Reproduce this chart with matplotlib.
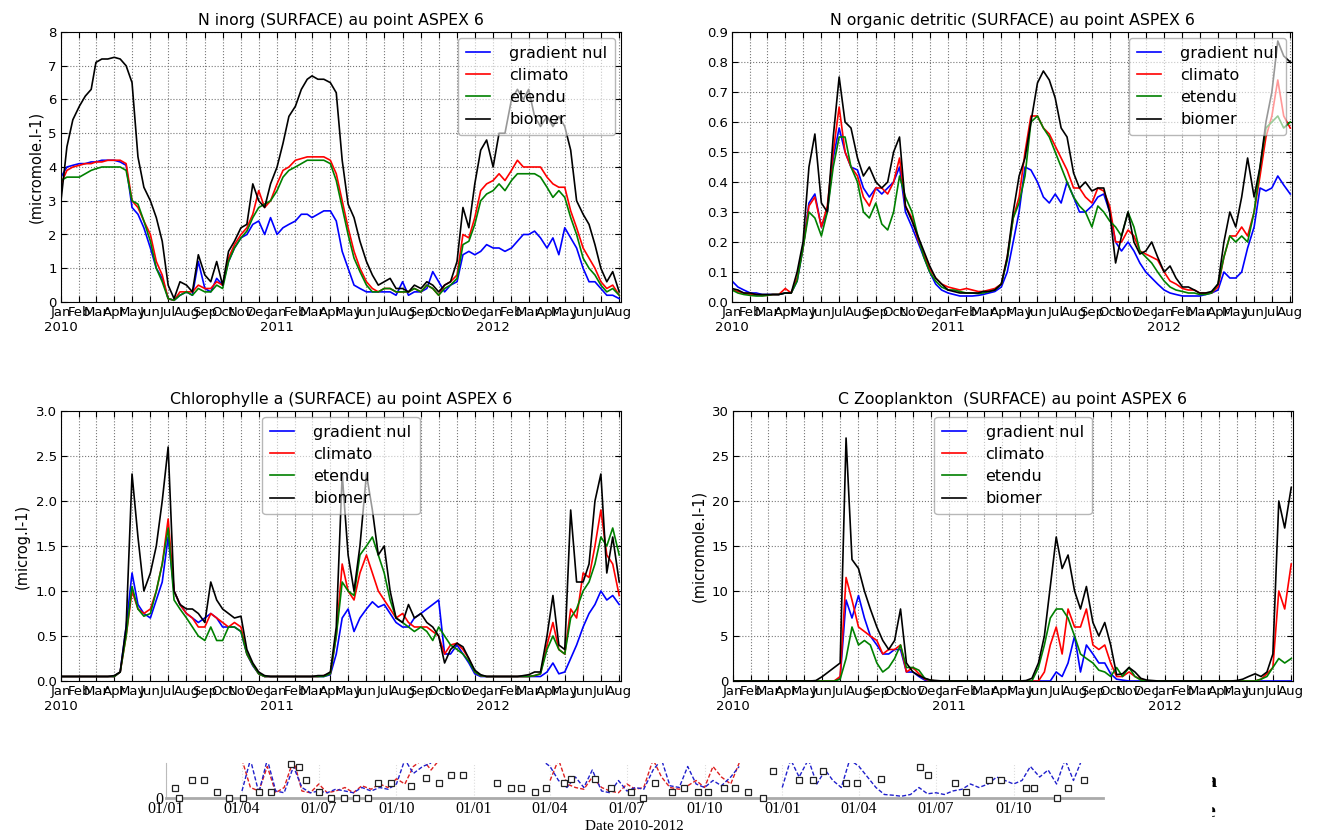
import numpy as np
import pandas as pd
import matplotlib
matplotlib.use('Agg')
import matplotlib.pyplot as plt
import matplotlib.dates as mdates
from matplotlib.ticker import FuncFormatter, MultipleLocator
from matplotlib.patches import Rectangle

nan = np.nan

# grille de lecture : 1, 11 et 21 de chaque mois, de janv. 2010 au 1er aout 2012
dates = [pd.Timestamp(y, m, d) for y in (2010, 2011, 2012) for m in range(1, 13)
         for d in (1, 11, 21) if (y, m) <= (2012, 7)] + [pd.Timestamp(2012, 8, 1)]

labels = ['gradient nul', 'climato', 'etendu', 'biomer']
couleurs = ['#0000ff', '#ff0000', '#008000', '#000000']

# ---- N inorg (micromole.l-1)
ninorg_gradient = [3.7, 4.0, 4.05, 4.1, 4.1, 4.15, 4.15, 4.2, 4.2, 4.2, 4.15, 4.05, 2.8, 2.6, 2.2, 1.6, 1.0, 0.7,
                   0.1, 0.05, 0.2, 0.3, 0.2, 1.2, 0.4, 0.3, 0.7, 0.5, 1.2, 1.6, 1.9, 2.0, 2.3, 2.4, 2.0, 2.5,
                   2.0, 2.2, 2.3, 2.4, 2.6, 2.6, 2.5, 2.6, 2.7, 2.7, 2.4, 1.5, 1.0, 0.5, 0.4, 0.3, 0.3, 0.3,
                   0.3, 0.3, 0.2, 0.6, 0.2, 0.3, 0.3, 0.4, 0.9, 0.6, 0.3, 0.5, 0.6, 1.4, 1.5, 1.4, 1.5, 1.7,
                   1.6, 1.6, 1.5, 1.6, 1.8, 2.0, 2.0, 2.1, 1.9, 1.6, 1.9, 1.4, 2.2, 1.9, 1.6, 1.0, 0.6, 0.6,
                   0.4, 0.2, 0.2, 0.1]
ninorg_climato = [3.5, 3.9, 4.0, 4.05, 4.1, 4.1, 4.15, 4.15, 4.2, 4.2, 4.2, 4.1, 3.0, 2.8, 2.4, 2.0, 1.2, 0.8,
                  0.1, 0.05, 0.3, 0.3, 0.3, 0.5, 0.4, 0.4, 0.6, 0.5, 1.3, 1.7, 2.0, 2.2, 2.6, 3.3, 2.8, 3.0,
                  3.5, 3.9, 4.0, 4.2, 4.25, 4.3, 4.3, 4.3, 4.3, 4.2, 3.8, 3.0, 2.2, 1.5, 1.0, 0.6, 0.4, 0.3,
                  0.4, 0.4, 0.3, 0.3, 0.3, 0.4, 0.3, 0.5, 0.4, 0.2, 0.5, 0.6, 0.8, 2.0, 1.9, 2.5, 3.3, 3.5,
                  3.6, 3.8, 3.6, 3.9, 4.2, 4.0, 4.0, 4.0, 4.0, 3.7, 3.5, 3.4, 3.4, 2.7, 2.2, 1.6, 1.3, 1.0,
                  0.6, 0.4, 0.5, 0.2]
ninorg_etendu = [3.6, 3.7, 3.7, 3.7, 3.8, 3.9, 3.95, 4.0, 4.0, 4.0, 4.0, 3.9, 3.0, 2.9, 2.4, 1.8, 1.0, 0.6,
                 0.1, 0.05, 0.2, 0.3, 0.2, 0.4, 0.3, 0.3, 0.5, 0.4, 1.2, 1.6, 1.9, 2.1, 2.5, 2.8, 2.9, 3.0,
                 3.3, 3.7, 3.9, 4.0, 4.1, 4.2, 4.2, 4.2, 4.2, 4.1, 3.6, 2.8, 2.0, 1.3, 0.9, 0.5, 0.3, 0.3,
                 0.4, 0.4, 0.3, 0.3, 0.3, 0.4, 0.3, 0.5, 0.4, 0.2, 0.4, 0.5, 0.7, 1.7, 1.8, 2.3, 3.0, 3.2,
                 3.3, 3.5, 3.3, 3.6, 3.8, 3.8, 3.8, 3.8, 3.7, 3.4, 3.1, 3.3, 3.1, 2.5, 2.0, 1.3, 1.0, 0.8,
                 0.5, 0.3, 0.4, 0.2]
ninorg_biomer = [3.0, 4.6, 5.4, 5.8, 6.1, 6.3, 7.1, 7.2, 7.2, 7.25, 7.2, 7.0, 6.5, 4.3, 3.4, 3.0, 2.5, 1.8,
                 0.5, 0.1, 0.6, 0.5, 0.3, 1.4, 0.8, 0.6, 1.2, 0.5, 1.5, 1.8, 2.2, 2.3, 3.5, 3.0, 2.8, 3.5,
                 4.0, 4.7, 5.5, 5.8, 6.3, 6.6, 6.7, 6.6, 6.6, 6.5, 6.2, 4.2, 2.9, 2.5, 1.8, 1.2, 0.8, 0.5,
                 0.6, 0.7, 0.4, 0.4, 0.3, 0.5, 0.4, 0.6, 0.5, 0.3, 0.5, 0.6, 1.2, 2.8, 2.2, 3.5, 4.5, 4.8,
                 4.0, 5.0, 5.0, 6.0, 6.3, 6.0, 6.3, 5.5, 5.2, 5.5, 5.2, 5.5, 5.2, 4.5, 3.0, 2.6, 2.3, 1.7,
                 1.0, 0.6, 0.9, 0.3]

# ---- N organic detritic
norg_gradient = [0.07, 0.05, 0.04, 0.03, 0.03, 0.025, 0.025, 0.025, 0.025, 0.03, 0.03, 0.07, 0.18, 0.33, 0.36,
                 0.25, 0.3, 0.48, 0.58, 0.5, 0.45, 0.44, 0.38, 0.35, 0.38, 0.36, 0.38, 0.4, 0.45, 0.3,
                 0.25, 0.2, 0.15, 0.1, 0.06, 0.04,
                 0.03, 0.025, 0.02, 0.02, 0.02, 0.022, 0.025, 0.03, 0.035, 0.05, 0.1, 0.2, 0.3, 0.45, 0.44,
                 0.4, 0.35, 0.33, 0.36, 0.33, 0.4, 0.35, 0.3, 0.3, 0.32, 0.35, 0.36, 0.3, 0.2, 0.17,
                 0.2, 0.17, 0.13, 0.1, 0.08, 0.06,
                 0.04, 0.03, 0.025, 0.02, 0.02, 0.02, 0.02, 0.025, 0.03, 0.04, 0.1, 0.08, 0.08, 0.1, 0.18,
                 0.25, 0.38, 0.37, 0.38, 0.42, 0.39, 0.36]
norg_climato = [0.04, 0.035, 0.03, 0.025, 0.025, 0.022, 0.022, 0.025, 0.025, 0.045, 0.03, 0.08, 0.18, 0.32, 0.35,
                0.25, 0.32, 0.5, 0.65, 0.5, 0.45, 0.42, 0.35, 0.32, 0.38, 0.38, 0.36, 0.4, 0.48, 0.32,
                0.28, 0.21, 0.16, 0.11, 0.08, 0.06,
                0.05, 0.045, 0.04, 0.045, 0.04, 0.035, 0.035, 0.04, 0.045, 0.06, 0.15, 0.28, 0.35, 0.5, 0.62,
                0.62, 0.58, 0.56, 0.52, 0.48, 0.44, 0.38, 0.38, 0.35, 0.33, 0.38, 0.37, 0.32, 0.2, 0.2,
                0.24, 0.22, 0.17, 0.16, 0.15, 0.14,
                0.1, 0.07, 0.06, 0.045, 0.04, 0.04, 0.03, 0.03, 0.03, 0.05, 0.15, 0.22, 0.22, 0.25, 0.22,
                0.3, 0.42, 0.55, 0.62, 0.74, 0.62, 0.58]
norg_etendu = [0.04, 0.03, 0.025, 0.022, 0.02, 0.02, 0.022, 0.025, 0.025, 0.03, 0.03, 0.07, 0.18, 0.3, 0.28,
               0.22, 0.3, 0.45, 0.55, 0.55, 0.45, 0.4, 0.3, 0.28, 0.33, 0.26, 0.24, 0.3, 0.42, 0.35,
               0.3, 0.22, 0.15, 0.1, 0.07, 0.05,
               0.04, 0.04, 0.035, 0.03, 0.03, 0.028, 0.03, 0.035, 0.04, 0.06, 0.14, 0.28, 0.33, 0.42, 0.6,
               0.62, 0.58, 0.55, 0.5, 0.45, 0.4, 0.35, 0.32, 0.3, 0.25, 0.32, 0.3, 0.27, 0.25, 0.22,
               0.3, 0.25, 0.17, 0.15, 0.13, 0.1,
               0.07, 0.05, 0.04, 0.035, 0.03, 0.03, 0.025, 0.025, 0.03, 0.06, 0.15, 0.22, 0.2, 0.22, 0.2,
               0.3, 0.45, 0.58, 0.6, 0.62, 0.58, 0.6]
norg_biomer = [0.045, 0.04, 0.03, 0.03, 0.025, 0.025, 0.025, 0.025, 0.025, 0.03, 0.03, 0.1, 0.2, 0.45, 0.56,
               0.33, 0.3, 0.55, 0.75, 0.6, 0.58, 0.48, 0.42, 0.45, 0.4, 0.38, 0.4, 0.5, 0.55, 0.32,
               0.27, 0.22, 0.17, 0.12, 0.08, 0.06,
               0.04, 0.035, 0.03, 0.03, 0.03, 0.03, 0.035, 0.035, 0.04, 0.06, 0.15, 0.3, 0.42, 0.48, 0.6,
               0.73, 0.77, 0.74, 0.68, 0.58, 0.55, 0.43, 0.38, 0.4, 0.37, 0.38, 0.38, 0.3, 0.13, 0.22,
               0.3, 0.2, 0.16, 0.17, 0.2, 0.15,
               0.1, 0.12, 0.08, 0.05, 0.05, 0.04, 0.03, 0.03, 0.035, 0.06, 0.2, 0.3, 0.25, 0.35, 0.48,
               0.35, 0.45, 0.6, 0.7, 0.87, 0.82, 0.8]

# ---- Chlorophylle a (microg.l-1)
chl_gradient = [0.05, 0.05, 0.05, 0.05, 0.05, 0.05, 0.05, 0.05, 0.05, 0.05, 0.1, 0.6, 1.2, 0.85, 0.75,
                0.7, 0.9, 1.1, 1.6, 1.0, 0.85, 0.75, 0.7, 0.65, 0.7, 0.75, 0.7, 0.6, 0.6, 0.6,
                0.55, 0.3, 0.17, 0.08, 0.05, 0.05,
                0.05, 0.05, 0.05, 0.05, 0.05, 0.05, 0.05, 0.05, 0.05, 0.07, 0.3, 0.7, 0.8, 0.55, 0.7,
                0.8, 0.88, 0.82, 0.85, 0.75, 0.65, 0.6, 0.6, 0.7, 0.75, 0.8, 0.85, 0.9, 0.3, 0.3,
                0.4, 0.3, 0.2, 0.08, 0.05, 0.05,
                0.05, 0.05, 0.05, 0.05, 0.05, 0.05, 0.05, 0.05, 0.05, 0.1, 0.2, 0.08, 0.1, 0.25, 0.4,
                0.6, 0.75, 0.85, 1.0, 0.9, 0.95, 0.85]
chl_climato = [0.05, 0.05, 0.05, 0.05, 0.05, 0.05, 0.05, 0.05, 0.05, 0.05, 0.1, 0.5, 1.0, 0.8, 0.75,
               0.8, 1.0, 1.3, 1.8, 1.0, 0.85, 0.75, 0.7, 0.6, 0.6, 0.75, 0.7, 0.65, 0.6, 0.65,
               0.6, 0.3, 0.18, 0.08, 0.05, 0.05,
               0.05, 0.05, 0.05, 0.05, 0.05, 0.05, 0.05, 0.05, 0.06, 0.08, 0.5, 1.3, 1.0, 0.9, 1.2,
               1.4, 1.2, 1.0, 0.9, 0.8, 0.7, 0.75, 0.65, 0.6, 0.6, 0.6, 0.55, 0.5, 0.3, 0.4,
               0.42, 0.35, 0.25, 0.1, 0.06, 0.05,
               0.05, 0.05, 0.05, 0.05, 0.05, 0.05, 0.05, 0.06, 0.08, 0.4, 0.65, 0.35, 0.3, 0.8, 0.7,
               1.2, 1.15, 1.5, 1.9, 1.4, 1.3, 0.95]
chl_etendu = [0.05, 0.05, 0.05, 0.05, 0.05, 0.05, 0.05, 0.05, 0.05, 0.05, 0.1, 0.5, 1.05, 0.8, 0.72,
              0.75, 1.0, 1.3, 1.7, 0.9, 0.8, 0.7, 0.6, 0.5, 0.45, 0.6, 0.45, 0.45, 0.6, 0.6,
              0.55, 0.3, 0.18, 0.08, 0.05, 0.05,
              0.05, 0.05, 0.05, 0.05, 0.05, 0.05, 0.05, 0.05, 0.05, 0.08, 0.5, 1.1, 1.0, 0.95, 1.4,
              1.5, 1.6, 1.4, 1.2, 0.9, 0.7, 0.65, 0.6, 0.55, 0.6, 0.55, 0.45, 0.6, 0.5, 0.4,
              0.35, 0.3, 0.22, 0.1, 0.06, 0.05,
              0.05, 0.05, 0.05, 0.05, 0.05, 0.05, 0.05, 0.06, 0.08, 0.35, 0.5, 0.35, 0.3, 0.7, 0.8,
              1.0, 1.1, 1.3, 1.6, 1.5, 1.7, 1.4]
chl_biomer = [0.05, 0.05, 0.05, 0.05, 0.05, 0.05, 0.05, 0.05, 0.05, 0.06, 0.1, 0.6, 2.3, 1.6, 1.0,
              1.2, 1.5, 2.0, 2.6, 1.0, 0.85, 0.8, 0.8, 0.75, 0.65, 1.1, 0.9, 0.8, 0.75, 0.7,
              0.72, 0.35, 0.2, 0.1, 0.06, 0.05,
              0.05, 0.05, 0.05, 0.05, 0.05, 0.05, 0.05, 0.06, 0.06, 0.1, 0.6, 2.3, 1.4, 1.0, 1.5,
              2.3, 1.9, 1.4, 1.5, 1.0, 0.7, 0.65, 0.85, 0.7, 0.75, 0.65, 0.6, 0.5, 0.2, 0.35,
              0.42, 0.38, 0.25, 0.12, 0.07, 0.05,
              0.05, 0.05, 0.05, 0.05, 0.05, 0.06, 0.07, 0.1, 0.1, 0.5, 0.95, 0.4, 0.35, 1.9, 1.1,
              1.1, 1.3, 2.0, 2.3, 1.2, 1.6, 1.1]

# ---- C Zooplankton (micromole.l-1)
zoo_gradient = [0, 0, 0, 0, 0, 0, 0, 0, 0, 0, 0, 0, 0, 0, 0, 0, 0, 0,
                0.3, 9.0, 7.0, 9.5, 7.0, 5.0, 4.0, 3.0, 3.0, 3.5, 3.5, 1.0, 1.0, 0.5, 0.1, 0, 0, 0,
                0, 0, 0, 0, 0, 0, 0, 0, 0, 0, 0, 0, 0, 0, 0, 0, 0, 0,
                1.0, 0.5, 2.0, 5.0, 1.0, 4.0, 3.0, 2.0, 2.0, 0.8, 0.2, 0.1, 0, 0, 0, 0, 0, 0,
                0, 0, 0, 0, 0, 0, 0, 0, 0, 0, 0, 0, 0, 0, 0, 0, 0, 0, 0, 0, 0, 0]
zoo_climato = [0, 0, 0, 0, 0, 0, 0, 0, 0, 0, 0, 0, 0, 0, 0, 0, 0, 0,
               0.5, 11.5, 9.0, 6.0, 5.5, 5.0, 4.5, 3.0, 3.5, 3.5, 4.0, 1.0, 1.5, 0.8, 0.2, 0.05, 0, 0,
               0, 0, 0, 0, 0, 0, 0, 0, 0, 0, 0, 0, 0, 0, 0, 0,
               1.0, 4.0, 6.0, 3.0, 8.0, 6.0, 6.0, 8.0, 4.0, 3.5, 4.0, 2.0, 0.5, 0.5, 1.0, 0.5, 0.2, 0, 0, 0,
               0, 0, 0, 0, 0, 0, 0, 0, 0, 0, 0, 0, 0, 0, 0, 0,
               0.2, 0.8, 1.5, 10.0, 8.0, 13.0]
zoo_etendu = [0, 0, 0, 0, 0, 0, 0, 0, 0, 0, 0, 0, 0, 0, 0, 0, 0, 0,
              0.2, 2.5, 6.0, 4.0, 4.5, 4.0, 2.0, 1.0, 1.5, 2.5, 4.0, 1.5, 1.5, 1.2, 0.3, 0.05, 0, 0,
              0, 0, 0, 0, 0, 0, 0, 0, 0, 0, 0, 0, 0, 0, 0,
              1.5, 4.0, 7.0, 8.0, 8.0, 7.0, 5.0, 3.0, 2.5, 2.0, 1.2, 1.0, 0.5, 1.5, 0.5, 1.5, 0.5, 0.1,
              0, 0, 0,
              0, 0, 0, 0, 0, 0, 0, 0, 0, 0, 0, 0, 0, 0, 0, 0,
              0.2, 0.5, 1.5, 2.5, 2.0, 2.5]
zoo_biomer = [0, 0, 0, 0, 0, 0, 0, 0, 0, 0, 0, 0, 0, 0,
              0.05, 0.5, 1.0, 1.5, 2.0, 27.0, 13.5, 12.5, 10.0, 8.0, 6.0, 4.5, 3.5, 4.5, 8.0, 2.0,
              1.0, 0.6, 0.3, 0.1, 0.05, 0,
              0, 0, 0, 0, 0, 0, 0, 0, 0, 0, 0, 0, 0,
              0.05, 0.3, 2.0, 5.0, 10.5, 16.0, 12.5, 14.0, 10.0, 8.0, 10.5, 6.5, 5.0, 6.5, 4.0, 0.7,
              0.8, 1.5, 1.0, 0.3, 0.1, 0.05, 0,
              0, 0, 0, 0, 0, 0, 0, 0, 0, 0, 0, 0,
              0.05, 0.2, 0.5, 0.8, 0.5, 1.0, 3.0, 20.0, 17.0, 21.5]

# ---- bandeau du bas (figure voisine coupee) : meme grille, 2010-2012 complet
dates_bandeau = [pd.Timestamp(y, m, d) for y in (2010, 2011, 2012) for m in range(1, 13) for d in (1, 11, 21)]
bandeau_rouge = [nan, nan, nan, nan, nan, nan, nan, nan, nan,
                 1.1, 0.3, 0.2, 0.9, 0.15, 0.3, 1.1, 0.2, 0.15, 0.4, 0.15, 0.2, 0.3, 0.15, 0.35,
                 0.25, 0.4, 0.3, 0.55, 0.4, 0.9, 1.1, 0.8, 1.1, nan, nan, nan,
                 nan, nan, nan, nan, nan, nan, nan, nan, nan,
                 0.5, 1.1, 0.4, 0.3, 0.25, 0.6, 0.3, 0.2, 0.15, 0.4, 0.25, 0.3, 1.1, 0.6, 0.3,
                 0.25, 0.35, 0.5, 0.3, 0.9, 0.6, 0.4, 1.0, nan, nan, nan, nan,
                 nan, nan, nan, nan, nan, nan, nan, nan, nan, nan, nan, nan,
                 nan, nan, nan, nan, nan, nan, nan, nan, nan, nan, nan, nan,
                 nan, nan, nan, nan, nan, nan, nan, nan, nan, nan, nan, nan]
bandeau_bleu = [nan, nan, nan, nan, nan, nan, nan, nan, nan,
                0.2, 1.1, 0.15, 1.1, 0.2, 0.15, 0.9, 0.3, 0.15, 0.2, 0.15, 0.25, 0.2, 0.15, 0.3,
                0.2, 0.3, 0.25, 0.4, 1.1, 0.7, 0.9, 1.0, nan, nan, nan, nan,
                nan, nan, nan, nan, nan, nan, nan, nan,
                1.1, 0.9, 0.5, 0.3, 0.6, 0.3, 0.8, 0.2, 0.15, 0.5, 0.2, 0.3, 0.25, 0.8, 1.1, 0.35,
                0.3, 0.9, 0.4, 0.3, 0.5, 0.35, 0.6, 0.9, nan, nan, nan, nan,
                0.3, 1.1, 0.6, 1.1, 0.4, 0.8, 0.5, 0.3, 1.1, 0.9, 0.6, 0.3, 0.1, 0.08, 0.05, 0.1, 0.3, 0.12,
                0.15, 0.1, 0.2, 0.25, 0.4, 0.3, 0.4, 0.6, 0.5, 0.4, 0.5, 0.9, 0.6, 0.8, 0.4, 1.1, 0.5, 1.1]
obs_dates = ['2010-01-12', '2010-01-16', '2010-02-01', '2010-02-15', '2010-03-02', '2010-03-17',
             '2010-04-02', '2010-04-21', '2010-05-05', '2010-05-29', '2010-06-08', '2010-06-16',
             '2010-07-01', '2010-07-15', '2010-07-31', '2010-08-14', '2010-08-28', '2010-09-09',
             '2010-09-25', '2010-10-18', '2010-11-05', '2010-11-20', '2010-12-05', '2010-12-19',
             '2011-01-28', '2011-02-14', '2011-02-26', '2011-03-14', '2011-03-27', '2011-04-18',
             '2011-04-26', '2011-05-24', '2011-06-12', '2011-07-06', '2011-07-20', '2011-08-03',
             '2011-08-24', '2011-09-07', '2011-09-23', '2011-10-05', '2011-10-24', '2011-11-06',
             '2011-11-22', '2011-12-09', '2011-12-21', '2012-01-21', '2012-02-07', '2012-02-18',
             '2012-03-17', '2012-03-29', '2012-04-27', '2012-06-12', '2012-06-22', '2012-07-24',
             '2012-08-06', '2012-09-02', '2012-09-16', '2012-10-16', '2012-10-25', '2012-11-22',
             '2012-12-05', '2012-12-23']
obs_valeurs = [0.28, 0.0, 0.51, 0.51, 0.16, 0.0, 0.0, 0.16, 0.16, 0.96, 0.9, 0.51,
               0.16, 0.0, 0.0, 0.0, 0.0, 0.42, 0.42, 0.33, 0.56, 0.42, 0.65, 0.65,
               0.42, 0.28, 0.28, 0.16, 0.28, 0.42, 0.54, 0.54, 0.28, 0.16, 0.0, 0.42,
               0.16, 0.28, 0.16, 0.16, 0.28, 0.28, 0.16, 0.0, 0.78, 0.51, 0.51, 0.78,
               0.42, 0.42, 0.54, 0.89, 0.65, 0.42, 0.16, 0.51, 0.51, 0.28, 0.28, 0.0,
               0.28, 0.51]

W, H = 1317, 832
debut, fin = pd.Timestamp(2010, 1, 1), pd.Timestamp(2012, 8, 4)


def fmt_mois(x, pos):
    d = mdates.num2date(x)
    s = d.strftime('%b')
    if d.month == 1:
        s += '\n' + str(d.year)
    return s


def trace_panel(rect, series, titre, ylabel, ymax, ypas, loc):
    ax = fig.add_axes([rect[0] / W, 1 - rect[3] / H, (rect[2] - rect[0]) / W, (rect[3] - rect[1]) / H])
    for vals, lab, col in zip(series, labels, couleurs):
        ax.plot(dates, vals, color=col, lw=1.2, label=lab)
    ax.set_xlim(debut, fin)
    ax.set_ylim(0, ymax)
    ax.yaxis.set_major_locator(MultipleLocator(ypas))
    ax.xaxis.set_major_locator(mdates.MonthLocator())
    ax.xaxis.set_major_formatter(FuncFormatter(fmt_mois))
    ax.grid(True, color='#777777', ls=':', lw=0.8)
    ax.tick_params(direction='in', top=True, right=True, labelsize=9.5, length=4, pad=3)
    ax.set_title(titre, fontsize=11.3, pad=5)
    if ylabel:
        ax.set_ylabel(ylabel, fontsize=10.5)
    ax.legend(loc=loc, fontsize=11.5, fancybox=True, framealpha=0.6, edgecolor='#888888',
              handlelength=1.5, handletextpad=1.2, labelspacing=0.45, borderpad=0.5, borderaxespad=0.35)
    return ax


fig = plt.figure(figsize=(W / 100, H / 100), dpi=100)

trace_panel((61, 32, 621, 302), [ninorg_gradient, ninorg_climato, ninorg_etendu, ninorg_biomer],
            'N inorg (SURFACE) au point ASPEX 6', '(micromole.l-1)', 8, 1, 'upper right')
trace_panel((732, 32, 1292, 302), [norg_gradient, norg_climato, norg_etendu, norg_biomer],
            'N organic detritic (SURFACE) au point ASPEX 6', None, 0.9, 0.1, 'upper right')
trace_panel((61, 411, 621, 681), [chl_gradient, chl_climato, chl_etendu, chl_biomer],
            'Chlorophylle a (SURFACE) au point ASPEX 6', '(microg.l-1)', 3.0, 0.5, 'upper center')
trace_panel((733, 411, 1293, 681), [zoo_gradient, zoo_climato, zoo_etendu, zoo_biomer],
            'C Zooplankton  (SURFACE) au point ASPEX 6', '(micromole.l-1)', 30, 5, 'upper center')

# bandeau coupe en bas de page
ax5 = fig.add_axes([166 / W, 1 - 798 / H, (1103 - 166) / W, 35 / H])
ax5.plot(dates_bandeau, bandeau_rouge, color='#dd2020', lw=1.0, ls=(0, (3, 1.5)))
ax5.plot(dates_bandeau, bandeau_bleu, color='#2020cc', lw=1.0, ls=(0, (3, 1.5)))
ax5.plot(pd.to_datetime(obs_dates), obs_valeurs, ls='none', marker='s', ms=5, mfc='white',
         mec='#222222', mew=0.9, clip_on=False, zorder=5)
ax5.set_xlim(pd.Timestamp(2010, 1, 1), pd.Timestamp(2013, 1, 15))
ax5.set_ylim(0, 1)
ticks5 = [pd.Timestamp(y, m, 1) for y in (2010, 2011, 2012) for m in (1, 4, 7, 10)]
ax5.set_xticks(ticks5)
ax5.set_xticklabels([t.strftime('%d/%m') for t in ticks5], fontfamily='Liberation Serif', fontsize=11.5)
ax5.set_yticks([0])
ax5.set_yticklabels(['0'], fontfamily='Liberation Serif', fontsize=11.5)
ax5.tick_params(length=0, pad=2)
ax5.grid(True, axis='x', color='#dddddd', ls=':', lw=0.8)
for s in ('top', 'right'):
    ax5.spines[s].set_visible(False)
ax5.spines['left'].set_color('#bbbbbb')
ax5.spines['left'].set_linewidth(0.8)
ax5.spines['bottom'].set_color('#aaaaaa')
ax5.spines['bottom'].set_linewidth(2)
ax5.set_xlabel('Date 2010-2012', fontfamily='Liberation Serif', fontsize=11, labelpad=2)

# lettres coupees au bord droit
fig.text(1205 / W, 1 - 782 / H, 'a', fontsize=16, fontweight='bold', fontfamily='Liberation Serif', va='center')
fig.text(1205 / W, 1 - 812 / H, 'e', fontsize=16, fontweight='bold', fontfamily='Liberation Serif', va='center')
fig.patches.append(Rectangle((1195 / W, 0), 16 / W, 80 / H, transform=fig.transFigure,
                             color='white', zorder=10))

fig.savefig('out.png', dpi=100)
